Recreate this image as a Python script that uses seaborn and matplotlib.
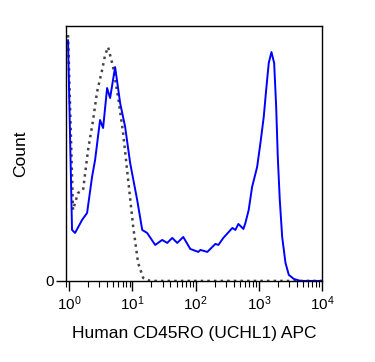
import numpy as np
import pandas as pd
import matplotlib
matplotlib.use('Agg')
import matplotlib.pyplot as plt
import matplotlib.ticker as mticker
import seaborn as sns

# CD45RO APC intensity vs count
stained_x = [0.96, 1.11, 1.24, 1.60, 1.92, 2.30, 2.57, 3.08, 3.44, 3.98, 4.44, 5.33, 6.40, 7.68,
             9.21, 11.9, 14.3, 17.1, 22.9, 29.6, 35.5, 42.6, 51.2, 63.7, 82.2, 110, 119, 153,
             205, 229, 274, 381, 425, 474, 569, 612, 690, 781, 938, 1058, 1193, 1303, 1432,
             1580, 1744, 1877, 1990, 2140, 2335, 2634, 2974, 3567, 4550, 10000]
stained_y = [241, 51, 48, 61, 68, 104, 121, 161, 153, 193, 183, 214, 178, 154,
             118, 81, 51, 48, 36, 41, 38, 43, 38, 44, 32, 29, 31, 29,
             37, 36, 43, 53, 51, 57, 52, 58, 71, 94, 114, 138, 164, 191, 218,
             229, 218, 174, 124, 81, 44, 18, 6, 2, 0, 0]

isotype_x = [0.96, 1.15, 1.38, 1.66, 1.99, 2.39, 2.76, 3.32, 3.70, 4.13, 4.95, 5.94, 7.13,
             8.57, 10.3, 12.3, 14.8, 19.1, 10000]
isotype_y = [246, 71, 88, 91, 131, 161, 189, 211, 226, 234, 214, 184, 148,
             101, 54, 18, 3, 0, 0]

sns.set_style('ticks')
plt.rcParams['font.family'] = ['Liberation Sans', 'DejaVu Sans']
plt.rcParams['mathtext.fontset'] = 'custom'
plt.rcParams['mathtext.rm'] = 'Liberation Sans'
plt.rcParams['mathtext.it'] = 'Liberation Sans'
plt.rcParams['text.color'] = 'black'
plt.rcParams['axes.labelcolor'] = 'black'
plt.rcParams['xtick.color'] = 'black'
plt.rcParams['ytick.color'] = 'black'

fig = plt.figure(figsize=(3.75, 3.62), dpi=100)
ax = fig.add_axes([0.176, 0.224, 0.683, 0.704])

sns.lineplot(x=isotype_x, y=isotype_y, ax=ax, color='#444444', linestyle=':', linewidth=1.8)
sns.lineplot(x=stained_x, y=stained_y, ax=ax, color='#0000ff', linewidth=1.4)

ax.set_xscale('log')
ax.set_xlim(10 ** -0.05, 1e4)
ax.set_ylim(0, 255)
ax.xaxis.set_major_locator(mticker.LogLocator(base=10, numticks=10))
ax.xaxis.set_minor_locator(mticker.LogLocator(base=10, subs=np.arange(2, 10), numticks=20))
ax.xaxis.set_major_formatter(mticker.LogFormatterMathtext())
ax.xaxis.set_minor_formatter(mticker.NullFormatter())
ax.set_yticks([0])
ax.set_yticklabels(['0'])

ax.tick_params(axis='x', which='major', length=7, width=1, labelsize=11, pad=3, direction='out')
ax.tick_params(axis='x', which='minor', length=4, width=0.8, direction='out')
ax.tick_params(axis='y', length=7, width=1, labelsize=11, pad=2)

for s in ax.spines.values():
    s.set_visible(True)
    s.set_color('black')
    s.set_linewidth(1)

ax.set_xlabel('Human CD45RO (UCHL1) APC', fontsize=12.5, labelpad=9)
ax.set_ylabel('Count', fontsize=12.5, labelpad=12)

fig.savefig('out.png', dpi=100)
